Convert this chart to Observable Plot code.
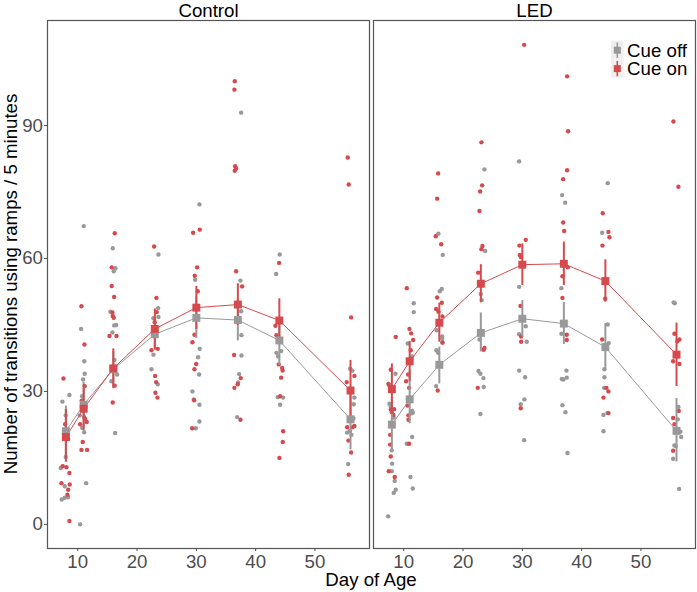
<!DOCTYPE html>
<html><head><meta charset="utf-8">
<script src="https://cdn.jsdelivr.net/npm/d3@7"></script>
<script src="https://cdn.jsdelivr.net/npm/@observablehq/plot@0.6"></script>
<style>body{margin:0;background:#fff}</style>
</head><body><div id="chart"></div>
<script>
// ---- data ----
const panels = ["Control", "LED"];
const cues = ["Cue off", "Cue on"];
const cueColors = ["#999999", "#d64a4e"];
const xTicks = [10, 20, 30, 40, 50];
const yTicks = [0, 30, 60, 90];

// individual observations: [day of age (jittered as drawn), transitions]
const controlOff = [[8.60,29.2],[7.42,27.7],[7.98,24.6],[7.98,15.2],[7.13,12.7],[7.81,8.6],[8.38,6.1],[7.81,6.0],[7.30,5.6],
 [11.01,67.3],[10.57,44.1],[11.10,36.8],[11.18,34.0],[10.91,32.7],[10.74,28.9],[10.34,24.6],[10.74,21.8],[11.08,20.8],[11.42,9.3],[10.40,0],
 [15.90,62.3],[16.36,57.8],[16.07,57.1],[15.51,48.0],[16.48,45.0],[16.14,44.9],[15.85,43.3],[16.19,37.1],[16.64,33.8],[15.68,32.3],[16.31,20.6],
 [23.61,60.9],[23.56,48.8],[23.61,46.8],[22.77,46.5],[22.77,38.3],[22.43,35.0],[23.49,31.6],
 [30.52,72.2],[29.80,55.2],[30.57,39.6],[30.30,37.7],[30.47,33.8],[29.34,30.0],[29.56,28.2],[30.52,27.0],[30.52,23.2],[29.90,21.7],
 [37.55,92.9],[37.44,55.0],[37.55,48.1],[37.61,42.7],[37.61,38.1],[37.22,33.9],[37.05,32.0],[36.88,24.2],
 [44.06,60.9],[43.46,56.5],[44.30,39.1],[43.51,38.7],[43.79,37.9],[43.73,28.7],[44.64,28.6],[44.13,27.0],
 [55.94,35.1],[56.32,34.7],[56.66,28.6],[56.54,27.1],[56.49,23.9],[55.87,21.0],[55.43,20.7],[56.16,20.2],[55.60,13.6]];
const controlOn = [[7.59,32.9],[7.88,22.6],[8.38,19.3],[7.47,13.1],[8.09,12.9],[8.60,11.6],[7.25,9.3],[8.65,9.0],[8.38,7.8],[8.26,6.7],[8.60,0.75],
 [10.62,49.2],[11.13,40.6],[11.18,31.2],[10.67,27.9],[11.08,24.2],[11.25,23.8],[11.52,23.1],[10.40,22.6],[10.84,18.6],[10.62,16.8],[11.58,16.8],
 [16.24,65.7],[15.73,58.0],[15.73,53.8],[16.14,51.3],[15.85,47.8],[15.90,47.0],[16.07,46.6],[15.35,42.5],[16.53,42.5],[16.24,31.3],[15.90,27.5],
 [22.88,62.7],[23.27,51.1],[23.32,47.9],[22.98,45.6],[23.49,39.6],[22.43,39.3],[23.05,33.5],[23.22,32.1],[23.10,29.7],[23.44,28.6],
 [30.57,66.5],[29.46,65.8],[30.13,58.0],[29.73,56.1],[30.24,52.6],[29.68,42.8],[29.34,41.1],[29.97,36.2],[29.68,35.0],[29.63,28.0],[29.29,21.7],
 [36.48,100.0],[36.42,98.1],[36.54,80.8],[36.71,80.3],[36.48,79.8],[36.71,57.1],[37.72,53.7],[36.37,38.2],[37.49,33.0],[36.98,31.6],[36.42,30.8],[37.44,23.6],
 [43.96,59.0],[43.34,44.8],[43.51,42.7],[43.90,36.1],[44.47,35.3],[44.55,34.7],[44.30,33.1],[44.13,28.9],[44.64,21.0],[44.57,18.6],[44.01,15.0],
 [55.53,82.8],[55.70,76.7],[56.10,46.7],[56.66,33.5],[55.36,32.1],[56.66,22.2],[55.43,21.9],[56.32,21.9],[55.65,18.9],[56.10,16.2],[55.70,11.2]];
const ledOff = [[8.60,34.0],[7.54,31.4],[7.59,27.2],[7.81,26.6],[8.31,24.1],[7.98,16.7],[8.04,13.7],[7.98,12.0],[8.48,9.8],[8.65,7.8],[8.31,7.1],[7.37,1.8],
 [11.69,49.9],[11.69,47.9],[10.67,40.8],[11.42,37.9],[11.42,25.6],[11.52,25.2],[11.18,25.0],[11.42,19.7],[10.51,18.2],[11.13,10.7],[11.52,8.1],
 [15.85,65.6],[16.58,60.8],[16.41,53.1],[16.07,52.6],[15.56,43.8],[16.48,42.4],[16.48,41.9],[16.53,41.1],[15.51,39.3],[15.80,38.7],[15.46,31.2],
 [23.61,80.1],[23.73,61.7],[22.99,52.0],[23.15,50.6],[22.77,41.7],[22.60,34.6],[22.93,34.0],[23.44,33.0],[23.49,31.0],[22.93,24.9],
 [29.46,81.9],[29.46,53.6],[30.57,44.7],[29.46,42.9],[30.74,41.2],[29.46,34.7],[30.47,33.2],[30.35,28.2],[29.73,27.1],[30.30,19.0],
 [36.71,74.3],[37.22,72.6],[36.59,53.3],[36.59,43.0],[37.44,34.7],[37.49,33.1],[36.93,32.7],[36.65,32.8],[36.76,26.9],[37.27,25.3],[37.61,16.1],
 [44.40,77.0],[43.46,65.8],[44.40,45.1],[44.57,40.9],[43.84,35.0],[43.84,33.2],[43.79,30.8],[44.35,25.1],[43.68,24.7],[43.68,21.0],
 [55.53,50.1],[55.70,49.9],[56.32,26.5],[56.21,23.7],[55.94,21.5],[56.66,20.9],[56.78,19.7],[55.65,17.8],[55.87,17.7],[55.43,14.8],[56.44,8.0]];
const ledOn = [[8.65,42.3],[7.81,34.9],[7.42,31.7],[8.38,26.0],[7.81,25.9],[7.98,25.3],[8.26,24.7],[7.71,20.2],[7.71,18.0],[7.81,15.3],[7.47,12.0],[8.48,10.7],
 [10.51,53.3],[10.96,44.1],[11.25,43.1],[11.58,41.6],[11.18,39.3],[10.74,33.8],[10.40,32.3],[10.91,30.8],[10.62,26.8],[10.79,24.6],[10.79,23.6],[10.91,18.2],
 [15.80,79.2],[15.63,73.5],[15.40,65.0],[16.31,63.2],[15.63,51.2],[16.41,50.0],[15.46,48.6],[15.85,48.0],[16.53,46.9],[16.53,41.0],[15.73,30.2],
 [23.10,86.2],[23.22,76.5],[22.88,75.1],[22.77,70.7],[23.27,62.8],[23.10,62.1],[22.55,56.8],[23.61,39.8],[23.49,39.4],[22.48,30.8],
 [30.30,108.2],[30.57,64.2],[29.51,62.9],[29.56,60.8],[29.80,60.3],[29.68,49.3],[29.80,42.4],[29.80,41.2],[29.73,26.2],
 [37.55,101.1],[37.72,88.7],[37.55,79.9],[36.88,77.9],[36.88,68.1],[37.05,66.2],[37.66,58.0],[36.76,56.0],[36.76,51.1],[37.49,42.8],[37.49,41.6],
 [43.56,70.2],[44.52,66.0],[44.69,64.8],[43.51,62.9],[43.96,50.9],[43.46,41.7],[44.18,30.8],[44.52,30.0],[43.68,28.6],[44.52,25.1],
 [55.48,90.9],[56.32,76.2],[55.65,43.0],[56.49,41.7],[56.15,41.3],[55.43,36.8],[56.49,36.2],[56.37,25.6],[55.43,24.0],[55.65,22.6],[55.43,16.6]];

// summary: mean and error bar per day
const meanDays = [8, 11, 16, 23, 30, 37, 44, 56];
const controlOffMean = [21.0, 27.0, 35.0, 42.9, 46.6, 46.1, 41.5, 23.7];
const controlOffLow  = [15.5, 22.0, 31.0, 39.5, 41.9, 41.4, 35.9, 16.8];
const controlOffHigh = [26.7, 32.0, 39.0, 46.5, 51.3, 50.8, 46.5, 30.0];
const controlOnMean  = [19.7, 26.1, 35.2, 44.1, 48.9, 49.6, 46.0, 30.2];
const controlOnLow   = [14.0, 21.2, 30.6, 39.3, 44.0, 44.9, 41.3, 23.5];
const controlOnHigh  = [25.9, 31.6, 39.6, 48.6, 53.7, 54.3, 50.9, 37.0];
const ledOffMean = [22.5, 28.2, 36.0, 43.2, 46.4, 45.3, 40.0, 21.1];
const ledOffLow  = [16.7, 22.7, 31.7, 38.9, 42.3, 40.6, 35.1, 14.1];
const ledOffHigh = [28.3, 34.7, 40.0, 47.7, 50.5, 50.1, 45.3, 28.4];
const ledOnMean  = [30.5, 36.8, 45.5, 54.3, 58.6, 58.8, 54.9, 38.3];
const ledOnLow   = [24.8, 32.3, 41.1, 50.0, 53.9, 53.9, 50.1, 31.1];
const ledOnHigh  = [36.2, 41.3, 49.9, 58.6, 63.3, 63.7, 59.7, 45.4];

// ---- tables ----
const rawGroups = [
  ["Control", "Cue off", controlOff], ["Control", "Cue on", controlOn],
  ["LED", "Cue off", ledOff], ["LED", "Cue on", ledOn]
];
const points = rawGroups.flatMap(([panel, cue, arr]) => arr.map(([day, value]) => ({panel, cue, day, value})));
const sumGroups = [
  ["Control", "Cue off", controlOffMean, controlOffLow, controlOffHigh],
  ["Control", "Cue on", controlOnMean, controlOnLow, controlOnHigh],
  ["LED", "Cue off", ledOffMean, ledOffLow, ledOffHigh],
  ["LED", "Cue on", ledOnMean, ledOnLow, ledOnHigh]
];
const summary = sumGroups.flatMap(([panel, cue, m, lo, hi]) => meanDays.map((day, i) => ({panel, cue, day, mean: m[i], lo: lo[i], hi: hi[i]})));

const FONT = "'Liberation Sans', Arial, Helvetica, sans-serif";
const FS = 18.67;

const plot = Plot.plot({
  width: 697, height: 592,
  marginLeft: 47, marginRight: 2, marginTop: 20, marginBottom: 44,
  style: {fontFamily: FONT, fontSize: FS + "px", background: "white", overflow: "visible"},
  fx: {domain: panels, paddingInner: 0.0123, paddingOuter: 0, round: false, label: null},
  x: {domain: [4.9, 59.2], label: null},
  y: {domain: [-5.45, 113.7], label: null},
  color: {domain: cues, range: cueColors},
  marks: [
    Plot.frame({stroke: "#555555", strokeWidth: 1.2}),
    Plot.axisFx({anchor: "top", tickSize: 0, tickPadding: 4, label: null, fontSize: FS, color: "black"}),
    Plot.axisX({ticks: xTicks, tickSize: 3, tickPadding: 3, label: null, fontSize: FS, color: "#4d4d4d"}),
    Plot.axisY({ticks: yTicks, tickSize: 3, tickPadding: 1.5, label: null, fontSize: FS, color: "#4d4d4d"}),
    Plot.dot(points, {fx: "panel", x: "day", y: "value", fill: "cue", r: 2.2, stroke: null}),
    Plot.line(summary, {fx: "panel", x: "day", y: "mean", stroke: "cue", z: "cue", strokeWidth: 1}),
    Plot.ruleX(summary, {fx: "panel", x: "day", y1: "lo", y2: "hi", stroke: "cue", strokeWidth: 2}),
    Plot.dot(summary, {fx: "panel", x: "day", y: "mean", fill: "cue", symbol: "square", r: 4.5})
  ]
});
document.getElementById("chart").appendChild(plot);

// axis titles and legend (layout only)
const svg = d3.select(plot);
const W = 697, H = 592, mL = 47, mR = 2, mT = 20, mB = 44;
svg.append("text").attr("x", (mL + W - mR) / 2).attr("y", H - 6.5)
  .attr("text-anchor", "middle").attr("fill", "black")
  .style("font-family", FONT).style("font-size", FS + "px").text("Day of Age");
svg.append("text").attr("transform", `translate(17,${(mT + H - mB) / 2}) rotate(-90)`)
  .attr("text-anchor", "middle").attr("fill", "black")
  .style("font-family", FONT).style("font-size", FS + "px")
  .text("Number of transitions using ramps / 5 minutes");

const lg = svg.append("g").attr("transform", `translate(${W - mR - 84},41)`);
const keyH = 18.4, keyW = 12.6;
cues.forEach((c, i) => {
  const g = lg.append("g").attr("transform", `translate(0,${i * keyH})`);
  g.append("rect").attr("width", keyW).attr("height", keyH).attr("fill", "#efefef");
  g.append("line").attr("x1", keyW / 2).attr("x2", keyW / 2).attr("y1", 1.5).attr("y2", keyH - 1.5)
    .attr("stroke", cueColors[i]).attr("stroke-width", 1.6);
  g.append("rect").attr("x", keyW / 2 - 3.5).attr("y", keyH / 2 - 3.5).attr("width", 7).attr("height", 7).attr("fill", cueColors[i]);
  g.append("text").attr("x", keyW + 3.5).attr("y", keyH / 2 + 6.6).attr("fill", "black")
    .attr("text-anchor", "start")
    .style("font-family", FONT).style("font-size", FS + "px").text(c);
});
</script></body></html>
